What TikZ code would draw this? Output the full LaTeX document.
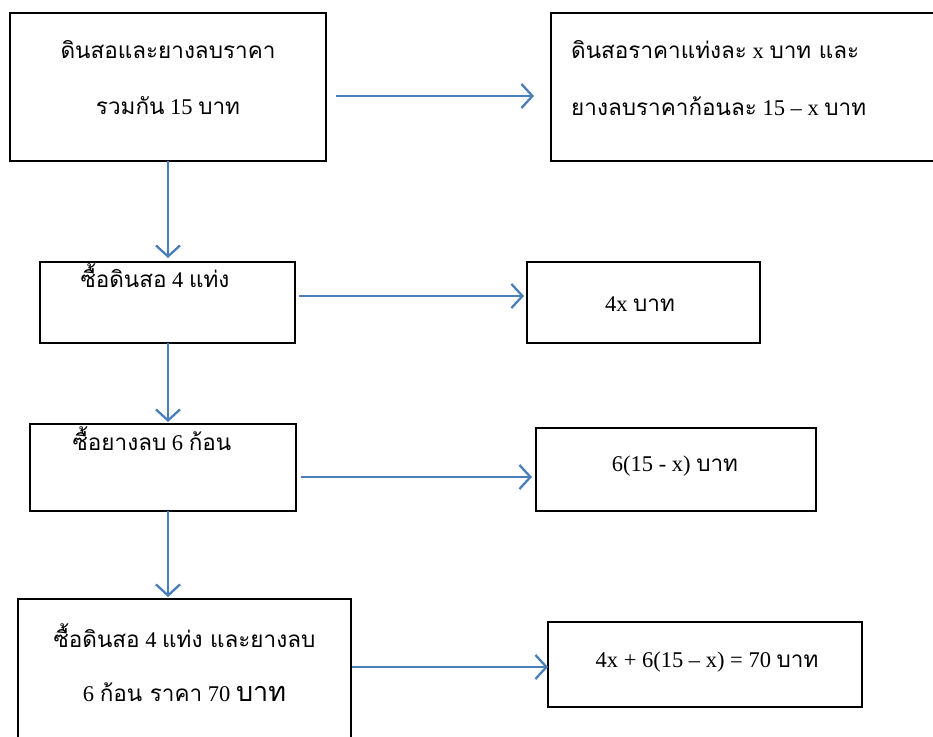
\documentclass[tikz,border=0pt]{standalone}
\usepackage{fontspec}
\setmainfont{Liberation Serif}
\newfontfamily\thaifont[Script=Thai]{Loma}
\newcommand\tha[1]{{\thaifont #1}}
\usetikzlibrary{arrows.meta}
\definecolor{arrowblue}{HTML}{4A7EBB}
\tikzset{
  box/.style={draw=black, line width=1.3pt, inner sep=0pt},
  txt/.style={inner sep=0pt, font=\fontsize{22.5}{26}\selectfont},
  conn/.style={draw=arrowblue, line width=2.3pt, -{Straight Barb[length=11pt,width=24pt,line width=2.3pt]}}
}
\begin{document}
\begin{tikzpicture}[x=1pt,y=-1pt]
\useasboundingbox (0,0) rectangle (933,736);
% boxes
\node[box, minimum width=316, minimum height=148] (A) at (168,87) {};
\node[box, minimum width=384, minimum height=148] (B) at (743,87) {};
\node[box, minimum width=255, minimum height=81] (C) at (167.5,302.5) {};
\node[box, minimum width=233, minimum height=81] (D) at (643.5,302.5) {};
\node[box, minimum width=266, minimum height=87] (E) at (163,467.5) {};
\node[box, minimum width=280, minimum height=83] (F) at (676,469.5) {};
\node[box, minimum width=333, minimum height=150] (G) at (184.5,674) {};
\node[box, minimum width=314, minimum height=85] (H) at (705,664.5) {};
% texts
\node[txt] (ta1) at (168,50) {\tha{ดินสอและยางลบราคา}};
\node[txt] (ta2) at (168,106) {\tha{รวมกัน} 15 \tha{บาท}};
\node[txt, anchor=west] (tb1) at (571,50) {\tha{ดินสอราคาแท่งละ} x \tha{บาท และ}};
\node[txt, anchor=west] (tb2) at (571,106) {\tha{ยางลบราคาก้อนละ} 15 – x \tha{บาท}};
\node[txt] (tc) at (155,276) {\tha{ซื้อดินสอ} 4 \tha{แท่ง}};
\node[txt] (td) at (640,304) {4x \tha{บาท}};
\node[txt] (te) at (152,439) {\tha{ซื้อยางลบ} 6 \tha{ก้อน}};
\node[txt] (tf) at (675,466) {6(15 - x) \tha{บาท}};
\node[txt] (tg1) at (184.5,636) {\tha{ซื้อดินสอ} 4 \tha{แท่ง และยางลบ}};
\node[txt] (tg2) at (184.5,692) {6 \tha{ก้อน ราคา} 70 {\fontsize{27}{30}\selectfont\tha{บาท}}};
\node[txt] (th) at (707,662) {4x + 6(15 – x) = 70 \tha{บาท}};
% connector end points
\coordinate (a1) at (336,96);  \coordinate (b1) at (534,96);
\coordinate (a2) at (168,161); \coordinate (c2) at (168,258);
\coordinate (c3) at (299,296); \coordinate (d3) at (524,296);
\coordinate (c4) at (168,343); \coordinate (e4) at (168,422);
\coordinate (e5) at (301,477); \coordinate (f5) at (532,477);
\coordinate (e6) at (168,511); \coordinate (g6) at (168,597);
\coordinate (g7) at (352,667); \coordinate (h7) at (548,667);
\draw[conn] (a1) -- (b1);
\draw[conn] (a2) -- (c2);
\draw[conn] (c3) -- (d3);
\draw[conn] (c4) -- (e4);
\draw[conn] (e5) -- (f5);
\draw[conn] (e6) -- (g6);
\draw[conn] (g7) -- (h7);
\end{tikzpicture}
\end{document}
